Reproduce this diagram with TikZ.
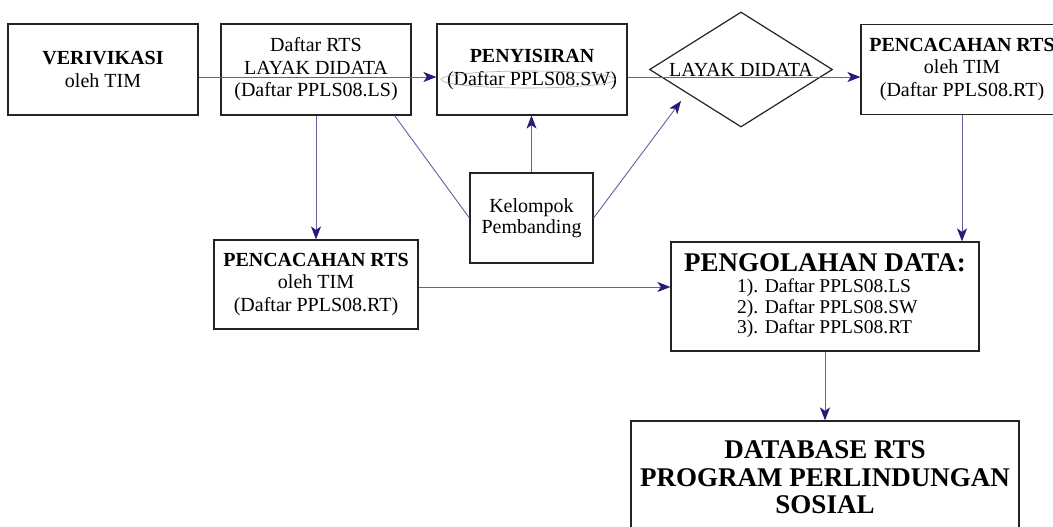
\documentclass[tikz,border=0pt]{standalone}
\usepackage{fontspec}
\setmainfont{Liberation Serif}
\usetikzlibrary{shapes.geometric,arrows.meta}
\definecolor{flow}{RGB}{35,28,120}
\definecolor{frame}{RGB}{35,35,35}
\begin{document}
\begin{tikzpicture}[x=1pt,y=-1pt,
  box/.style={draw=frame,line width=1.2pt,align=center,inner sep=0pt,
    font=\fontsize{20}{22.5}\selectfont},
  link/.style={draw=flow!70,line width=0.9pt},
  arr/.style={link,-{Stealth[length=13pt,width=10pt,inset=3.5pt,color=flow,fill=flow]}}]
\clip (0,0) rectangle (1053,527);
\fill[white] (0,0) rectangle (1053,527);

% upper row
\node[box,minimum width=190pt,minimum height=91pt] (veri) at (103,69.5)
  {\textbf{VERIVIKASI}\\oleh TIM};
\node[box,minimum width=190pt,minimum height=91pt] (ls) at (316,69.5)
  {Daftar RTS\\LAYAK DIDATA\\(Daftar PPLS08.LS)};
\node[box,minimum width=190pt,minimum height=91pt] (peny) at (532,69.5)
  {\textbf{PENYISIRAN}\\(Daftar PPLS08.SW)};
\node[draw=gray!65,line width=0.6pt,ellipse,inner sep=0pt,
  minimum width=174pt,minimum height=17pt] (swring) at (528,79.5) {};
\node[box,shape=diamond,shape aspect=1.6,minimum width=183pt,minimum height=115pt]
  (dm) at (741,69.5) {LAYAK DIDATA};
\node[box,minimum width=202pt,minimum height=90pt] (rtR) at (962,69.5)
  {\textbf{PENCACAHAN RTS}\\oleh TIM\\(Daftar PPLS08.RT)};

% middle row
\node[box,minimum width=123pt,minimum height=90pt,
  font=\fontsize{20}{21}\selectfont] (kp) at (531.5,218)
  {Kelompok\\Pembanding};
\node[box,minimum width=204pt,minimum height=89pt] (rtL) at (316,284.5)
  {\textbf{PENCACAHAN RTS}\\oleh TIM\\(Daftar PPLS08.RT)};
\node[box,minimum width=308pt,minimum height=109pt] (olah) at (825,296.5) {};
\node[font=\fontsize{27}{28}\selectfont\bfseries,inner sep=0pt] (olahT)
  at (825,263) {PENGOLAHAN DATA:};
\node[font=\fontsize{19.5}{20.5}\selectfont,align=left,inner sep=0pt,anchor=west]
  (olahL) at (737,308.5)
  {1). Daftar PPLS08.LS\\2). Daftar PPLS08.SW\\3). Daftar PPLS08.RT};

% bottom
\node[box,minimum width=388pt,minimum height=113pt,
  font=\fontsize{27}{27.5}\selectfont\bfseries] (db) at (825,477.5)
  {DATABASE RTS\\PROGRAM PERLINDUNGAN\\SOSIAL};

% connectors
\coordinate (dtip) at (681,101);
\draw[arr] ([yshift=-7.5pt]veri.east) -- ([yshift=-7.5pt]peny.west);
\draw[arr] ([yshift=-7.5pt]peny.east) -- ([yshift=-7.5pt]rtR.west);
\draw[arr] (ls.south) -- (rtL.north);
\draw[link] ([xshift=-17pt]ls.south east) -- (kp.west);
\draw[arr] (kp.north) -- (kp.north |- peny.south);
\draw[arr] (kp.east) -- (dtip);
\draw[arr] (rtR.south) -- (rtR.south |- olah.north);
\draw[arr] ([yshift=-2.5pt]rtL.east) -- ([yshift=-2.5pt]rtL.east -| olah.west);
\draw[arr] (olah.south) -- (db.north);
\end{tikzpicture}
\end{document}
